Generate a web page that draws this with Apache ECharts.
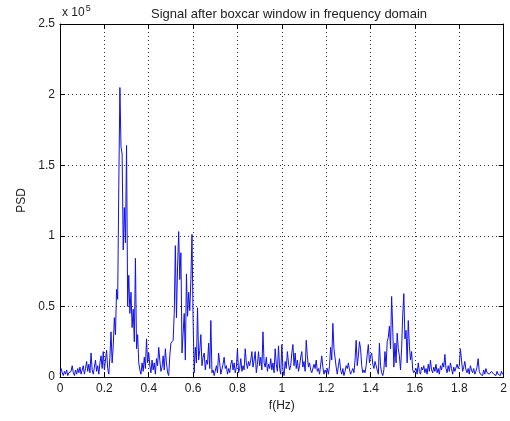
<!DOCTYPE html>
<html><head><meta charset="utf-8">
<script src="https://cdn.jsdelivr.net/npm/echarts@6/dist/echarts.min.js"></script>
<style>html,body{margin:0;padding:0;background:#fff}#c{width:510px;height:421px}</style>
</head><body><div id="c"></div>
<script>
// PSD values in units of 1e5, sampled every 0.005 Hz from 0 to 2 Hz
var freqStart = 0, freqStep = 0.005;
var psdValues = [
0.02,0.06,0.03,0.01,0.04,0.02,0.05,0.01,0.03,0.02,0.04,0.08,0.03,0.01,0.05,0.02,0.06,0.03,0.07,0.02,
0.03,0.08,0.02,0.06,0.11,0.04,0.09,0.03,0.17,0.05,0.02,0.07,0.12,0.04,0.08,0.02,0.10,0.15,0.06,0.18,
0.05,0.12,0.19,0.06,0.02,0.14,0.32,0.10,0.22,0.42,0.30,0.62,0.55,1.35,2.05,1.63,1.58,0.90,1.20,0.95,
1.64,0.50,0.72,0.45,0.60,0.35,0.48,0.25,0.84,0.20,0.30,0.10,0.05,0.02,0.10,0.04,0.14,0.06,0.27,0.10,
0.17,0.08,0.03,0.12,0.05,0.10,0.02,0.13,0.08,0.21,0.12,0.04,0.07,0.15,0.05,0.20,0.10,0.03,0.01,0.15,
0.24,0.25,0.26,0.45,0.93,0.42,0.78,1.03,0.69,0.88,0.17,0.31,0.45,0.12,0.73,0.43,0.60,0.47,0.69,1.01,
0.40,0.03,0.21,0.10,0.49,0.12,0.19,0.30,0.08,0.14,0.17,0.05,0.12,0.09,0.24,0.06,0.40,0.03,0.05,0.01,
0.00,0.08,0.03,0.17,0.10,0.02,0.03,0.09,0.14,0.06,0.08,0.02,0.06,0.03,0.09,0.12,0.05,0.10,0.03,0.07,
0.20,0.03,0.06,0.13,0.04,0.08,0.05,0.20,0.10,0.06,0.11,0.08,0.12,0.18,0.07,0.12,0.18,0.03,0.09,0.18,
0.08,0.14,0.05,0.32,0.10,0.07,0.14,0.04,0.09,0.06,0.13,0.05,0.10,0.03,0.20,0.09,0.04,0.22,0.06,0.02,
0.23,0.05,0.01,0.11,0.06,0.18,0.10,0.05,0.08,0.17,0.23,0.08,0.17,0.06,0.12,0.04,0.08,0.14,0.18,0.07,
0.11,0.04,0.26,0.15,0.07,0.10,0.05,0.03,0.02,0.09,0.06,0.12,0.04,0.06,0.02,0.01,0.15,0.07,0.02,0.05,
0.03,0.06,0.02,0.08,0.21,0.12,0.38,0.20,0.21,0.07,0.02,0.08,0.13,0.05,0.02,0.06,0.01,0.04,0.08,0.06,
0.10,0.05,0.02,0.04,0.06,0.03,0.12,0.26,0.08,0.15,0.25,0.20,0.08,0.03,0.05,0.03,0.08,0.16,0.23,0.10,
0.15,0.17,0.09,0.06,0.11,0.12,0.05,0.02,0.24,0.08,0.03,0.01,0.05,0.18,0.07,0.25,0.28,0.36,0.20,0.57,
0.34,0.07,0.24,0.10,0.31,0.20,0.15,0.05,0.20,0.44,0.59,0.27,0.33,0.10,0.40,0.22,0.12,0.18,0.05,0.03,
0.04,0.06,0.02,0.10,0.04,0.02,0.07,0.05,0.08,0.03,0.06,0.02,0.09,0.04,0.12,0.05,0.03,0.07,0.04,0.09,
0.03,0.06,0.02,0.08,0.05,0.10,0.07,0.16,0.06,0.03,0.08,0.04,0.10,0.06,0.02,0.07,0.04,0.03,0.09,0.06,
0.08,0.20,0.12,0.04,0.07,0.11,0.05,0.03,0.06,0.02,0.08,0.05,0.03,0.06,0.02,0.04,0.07,0.13,0.04,0.02,
0.03,0.01,0.05,0.02,0.06,0.03,0.04,0.02,0.01,0.04,0.05,0.02,0.03,0.01,0.04,0.02,0.03,0.01,0.04,0.02,0.03
];
var xRange = [0, 2], xInterval = 0.2;
var yRange = [0, 2.5], yInterval = 0.5;
var titleText = 'Signal after boxcar window in frequency domain';
var xLabel = 'f(Hz)', yLabel = 'PSD';

var seriesData = psdValues.map(function (v, i) { return [+(freqStart + i * freqStep).toFixed(3), v]; });
var font = 'Arial, "Liberation Sans", Helvetica, sans-serif';
var chart = echarts.init(document.getElementById('c'), null, {renderer: 'canvas'});
var tickStyle = {show: true, inside: true, length: 5, lineStyle: {color: '#000'}};
var gridLine = {show: true, lineStyle: {color: '#333', type: [1, 3], width: 1}};
chart.setOption({
  backgroundColor: '#fff',
  animation: false,
  title: {text: titleText, left: 284, top: 3, textAlign: 'center',
    textStyle: {fontFamily: font, fontSize: 13, fontWeight: 'normal', color: '#222'}},
  grid: {left: 60, right: 1, top: 24, bottom: 44, containLabel: false},
  xAxis: [{
    type: 'value', min: xRange[0], max: xRange[1], interval: xInterval, position: 'bottom',
    name: xLabel, nameLocation: 'middle', nameGap: 23,
    nameTextStyle: {fontFamily: font, fontSize: 12, color: '#222'},
    axisLine: {show: true, onZero: false, lineStyle: {color: '#000'}},
    axisTick: tickStyle,
    axisLabel: {fontFamily: font, fontSize: 12, color: '#222', margin: 6},
    splitLine: gridLine
  }, {
    type: 'value', min: xRange[0], max: xRange[1], interval: xInterval, position: 'top',
    axisLine: {show: true, onZero: false, lineStyle: {color: '#000'}},
    axisTick: tickStyle, axisLabel: {show: false}, splitLine: {show: false}
  }],
  yAxis: [{
    type: 'value', min: yRange[0], max: yRange[1], interval: yInterval, position: 'left',
    name: yLabel, nameLocation: 'middle', nameGap: 30, nameRotate: 90,
    nameTextStyle: {fontFamily: font, fontSize: 12, color: '#222'},
    axisLine: {show: true, onZero: false, lineStyle: {color: '#000'}},
    axisTick: tickStyle,
    axisLabel: {fontFamily: font, fontSize: 12, color: '#222', margin: 5},
    splitLine: gridLine
  }, {
    type: 'value', min: yRange[0], max: yRange[1], interval: yInterval, position: 'right',
    axisLine: {show: true, onZero: false, lineStyle: {color: '#000'}},
    axisTick: tickStyle, axisLabel: {show: false}, splitLine: {show: false}
  }],
  graphic: [{
    type: 'text', left: 62, top: 4,
    style: {text: '{a|x 10}{b|5}', rich: {
      a: {fontFamily: font, fontSize: 12, fill: '#222'},
      b: {fontFamily: font, fontSize: 9, fill: '#222', verticalAlign: 'top', padding: [0, 0, 8, 1]}
    }}
  }],
  series: [{
    type: 'line', data: seriesData, showSymbol: false, smooth: false,
    lineStyle: {color: '#1010ee', width: 1}, xAxisIndex: 0, yAxisIndex: 0
  }]
});
</script></body></html>
